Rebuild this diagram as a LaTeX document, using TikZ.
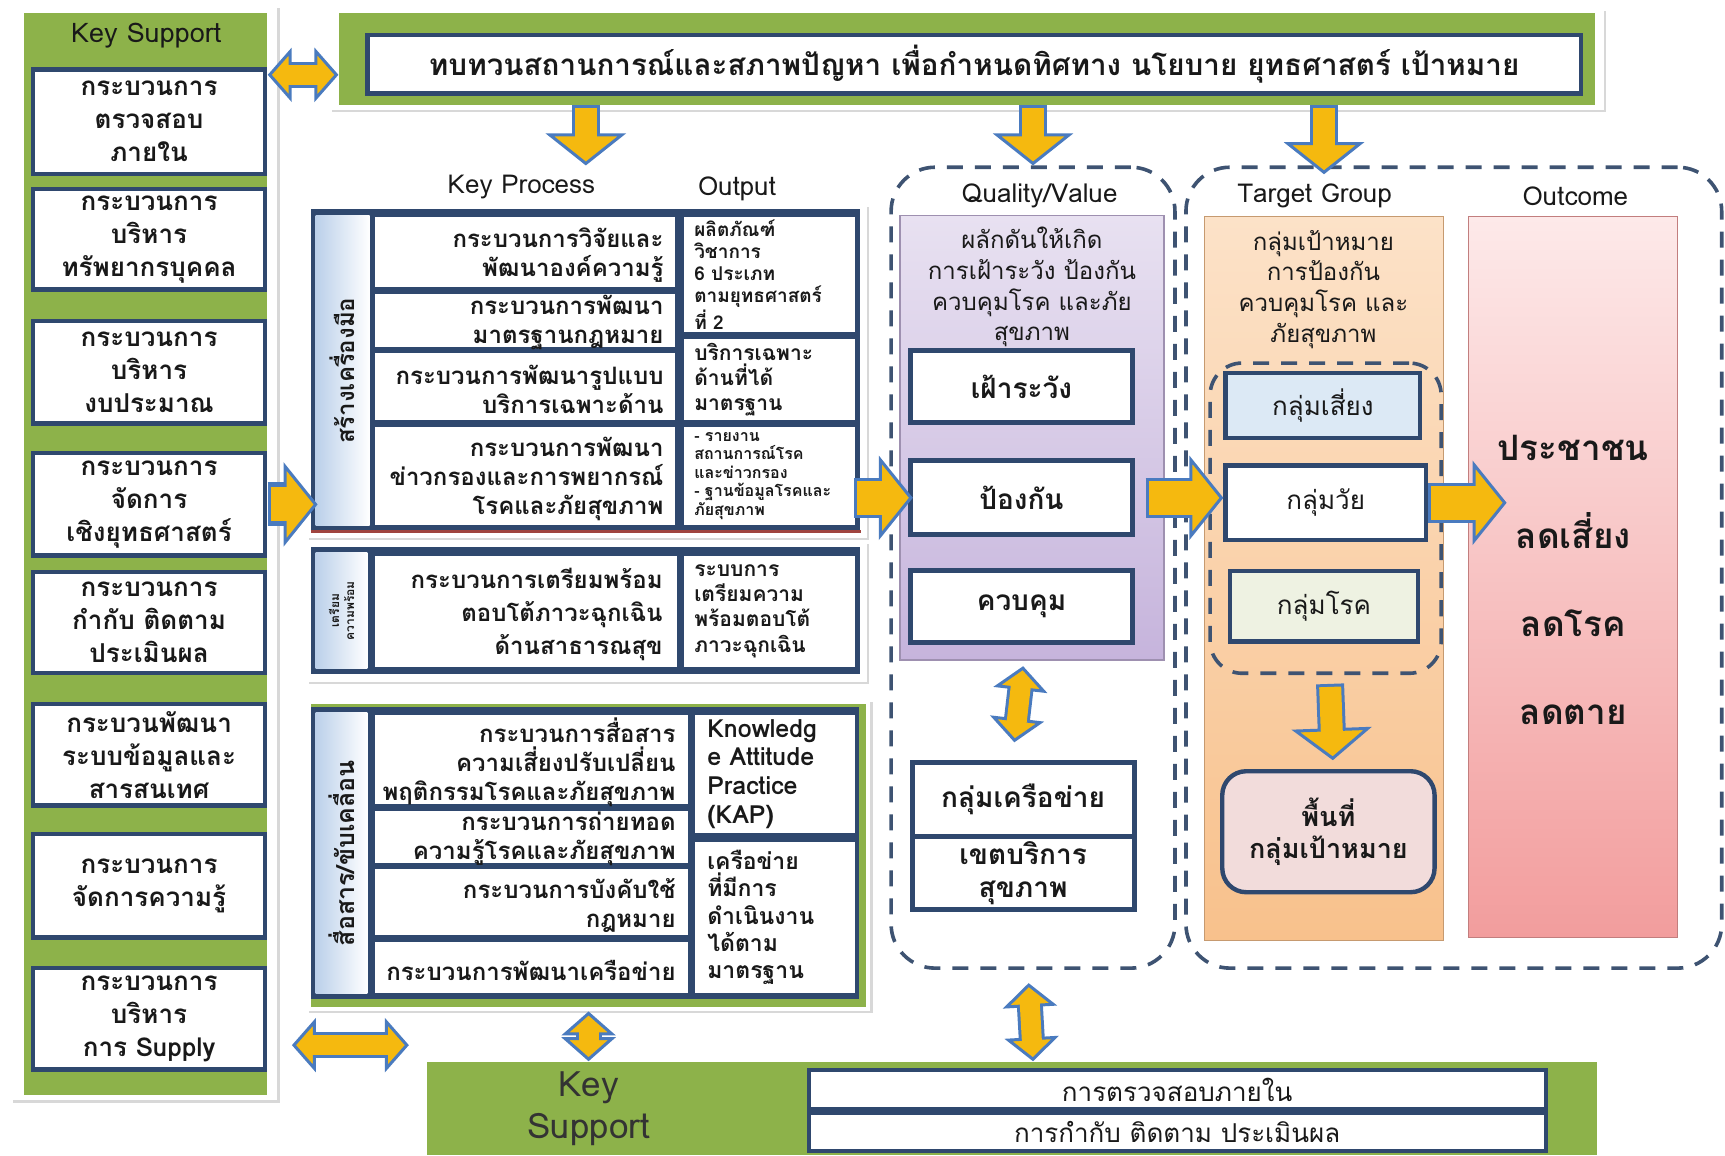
\documentclass[tikz,border=0pt]{standalone}
\usepackage{fontspec}
\setmainfont{Loma}[Script=Thai]
\usetikzlibrary{fit,calc,arrows.meta,shadows}

\definecolor{ksgreen}{HTML}{8DB24A}
\definecolor{navy}{HTML}{2F486E}
\definecolor{gold}{HTML}{F5B90F}
\definecolor{arrowblue}{HTML}{4A7BBF}
\definecolor{sideblue}{HTML}{BBD0EA}
\definecolor{brick}{HTML}{A0443F}
\definecolor{qvtop}{HTML}{E8E1F1}
\definecolor{qvbot}{HTML}{C6B4DC}
\definecolor{tgtop}{HTML}{FCE2C8}
\definecolor{tgbot}{HTML}{F8C18C}
\definecolor{octop}{HTML}{FDE9E9}
\definecolor{ocbot}{HTML}{F29D9D}
\definecolor{riskblue}{HTML}{DCE9F5}
\definecolor{dispale}{HTML}{EEF2E2}
\definecolor{areapink}{HTML}{F2DCDB}
\definecolor{dashgray}{HTML}{3E5372}

\tikzset{
  every node/.style={inner sep=0pt, align=center, text=black!90},
  greenbar/.style={fill=ksgreen},
  panel/.style={fill=white, drop shadow={opacity=0.3, shadow xshift=1.2pt, shadow yshift=-1.2pt}},
  kbox/.style={draw=navy, line width=2.2pt, fill=white},
  kfont/.style={font=\bfseries\fontsize{13}{16.5}\selectfont},
  hdr/.style={font=\fontsize{13}{14}\selectfont},
  cell/.style={fill=white},
  side/.style={left color=sideblue, right color=white},
  sidetext/.style={rotate=90, font=\bfseries\fontsize{12}{14}\selectfont},
  ptext/.style={font=\bfseries\fontsize{12}{14.5}\selectfont, align=right},
  otext/.style={font=\bfseries\fontsize{9.5}{11}\selectfont, align=left},
  dashbox/.style={draw=dashgray, line width=1.8pt, dash pattern=on 8pt off 6pt, rounded corners=22pt},
  qtext/.style={font=\fontsize{12}{15.4}\selectfont},
  qbox/.style={draw=navy, line width=2.5pt, fill=white},
  qfont/.style={font=\bfseries\fontsize{14}{16.5}\selectfont},
  tbox/.style={draw=navy, line width=2.2pt, fill=white},
  tfont/.style={font=\fontsize{13}{15}\selectfont},
  botbox/.style={draw=navy, line width=2pt, fill=white},
  bfont/.style={font=\fontsize{13}{14}\selectfont},
  flow/.style={draw=arrowblue, line width=20pt,
    -{Triangle[fill=gold, line width=1.5pt, length=17pt, width=42pt]},
    postaction={draw=gold, line width=17pt, -, shorten >=15pt, shorten <=1.5pt}},
  down/.style={draw=arrowblue, line width=14pt,
    -{Triangle[fill=gold, line width=1.5pt, length=16pt, width=40pt]},
    postaction={draw=gold, line width=11pt, -, shorten >=14pt, shorten <=1.5pt}},
  duo/.style={draw=arrowblue, line width=13pt,
    {Triangle[fill=gold, line width=1.5pt, length=12pt, width=27pt]}-{Triangle[fill=gold, line width=1.5pt, length=12pt, width=27pt]},
    postaction={draw=gold, line width=10pt, -, shorten >=10pt, shorten <=10pt}}
}

\begin{document}
\begin{tikzpicture}[x=0.55pt,y=-0.55pt]
\useasboundingbox[fill=white] (0,0) rectangle (1568,1050);

% key support column
\node[panel, fit={(10,5)(252,1000)}] (kspanel) {};
\node[greenbar, fit={(22,12)(243,995)}] (kscol) {};
\node[hdr, font=\fontsize{13.5}{15}\selectfont] (kstitle) at (133,32) {Key Support};
\foreach \n/\ya/\yb/\txt in {
  1/63/158/{กระบวนการ\\ตรวจสอบ\\ภายใน},
  2/172/263/{กระบวนการ\\บริหาร\\ทรัพยากรบุคคล},
  3/292/385/{กระบวนการ\\บริหาร\\งบประมาณ},
  4/412/505/{กระบวนการ\\จัดการ\\เชิงยุทธศาสตร์},
  5/520/612/{กระบวนการ\\กำกับ ติดตาม\\ประเมินผล},
  6/640/732/{กระบวนพัฒนา\\ระบบข้อมูลและ\\สารสนเทศ},
  7/758/852/{กระบวนการ\\จัดการความรู้},
  8/880/972/{กระบวนการ\\บริหาร\\การ Supply}}
  {\node[kbox, fit={(30,\ya)(241,\yb)}] (k\n) {};
   \node[kfont] (k\n t) at (k\n) {\txt};}

% top banner
\node[panel, fit={(300,8)(1458,100)}] (bannerpanel) {};
\node[greenbar, fit={(308,12)(1450,95)}] (bannerbar) {};
\node[kbox, fit={(334,32)(1437,85)}] (banner) {};
\node[font=\bfseries\fontsize{14.8}{16}\selectfont] (bannert) at (banner)
  {ทบทวนสถานการณ์และสภาพปัญหา เพื่อกำหนดทิศทาง นโยบาย ยุทธศาสตร์ เป้าหมาย};

\node[hdr] (hkp) at (474,170) {Key Process};
\node[hdr] (hout) at (670,172) {Output};

% block 1
\node[panel, fit={(279,186)(788,489)}] (blk1panel) {};
\node[fill=navy, fit={(283,190)(782,483)}] (blk1) {};
\draw[brick, line width=1.5pt] (blk1.south west) -- (blk1.south east);
\node[side, fit={(287,196)(336,478)}] (s1) {};
\node[sidetext] (s1t) at (s1) {สร้างเครื่องมือ};
\node[cell, fit={(341,197)(614,261)}] (p1) {};
\node[cell, fit={(341,267)(614,315)}] (p2) {};
\node[cell, fit={(341,321)(614,382)}] (p3) {};
\node[cell, fit={(341,388)(614,477)}] (p4) {};
\node[ptext, anchor=east] (p1t) at ([xshift=-6pt,yshift=-1.5pt]p1.east) {กระบวนการวิจัยและ\\พัฒนาองค์ความรู้};
\node[ptext, anchor=east] (p2t) at ([xshift=-6pt,yshift=-1pt]p2.east) {กระบวนการพัฒนา\\มาตรฐานกฎหมาย};
\node[ptext, anchor=east] (p3t) at ([xshift=-6pt,yshift=-1.5pt]p3.east) {กระบวนการพัฒนารูปแบบ\\บริการเฉพาะด้าน};
\node[ptext, anchor=east] (p4t) at ([xshift=-6pt,yshift=-1.5pt]p4.east) {กระบวนการพัฒนา\\ข่าวกรองและการพยากรณ์\\โรคและภัยสุขภาพ};
\node[cell, fit={(622,197)(777,302)}] (o1) {};
\node[cell, fit={(622,308)(777,382)}] (o2) {};
\node[cell, fit={(622,388)(777,477)}] (o3) {};
\node[otext, anchor=west] (o1t) at ([xshift=5pt]o1.west) {ผลิตภัณฑ์\\วิชาการ\\6 ประเภท\\ตามยุทธศาสตร์\\ที่ 2};
\node[otext, font=\bfseries\fontsize{10.5}{12.6}\selectfont, anchor=west] (o2t) at ([xshift=5pt]o2.west) {บริการเฉพาะ\\ด้านที่ได้\\มาตรฐาน};
\node[otext, font=\bfseries\fontsize{8}{9.3}\selectfont, anchor=west] (o3t) at ([xshift=5pt]o3.west) {- รายงาน\\สถานการณ์โรค\\และข่าวกรอง\\- ฐานข้อมูลโรคและ\\ภัยสุขภาพ};

% block 2
\node[panel, fit={(279,492)(788,620)}] (blk2panel) {};
\node[fill=navy, fit={(283,497)(782,613)}] (blk2) {};
\node[side, fit={(287,502)(334,608)}] (s2) {};
\node[sidetext, font=\bfseries\fontsize{6}{7.5}\selectfont] (s2t) at (s2) {เตรียม\\ความพร้อม};
\node[cell, fit={(341,505)(615,606)}] (p5) {};
\node[ptext, font=\bfseries\fontsize{12}{16.5}\selectfont, anchor=east] (p5t) at ([xshift=-7pt,yshift=-1.5pt]p5.east) {กระบวนการเตรียมพร้อม\\ตอบโต้ภาวะฉุกเฉิน\\ด้านสาธารณสุข};
\node[cell, fit={(622,505)(777,606)}] (o4) {};
\node[otext, font=\bfseries\fontsize{10.5}{12.6}\selectfont, anchor=west] (o4t) at ([xshift=5pt]o4.west) {ระบบการ\\เตรียมความ\\พร้อมตอบโต้\\ภาวะฉุกเฉิน};

% block 3
\node[panel, fit={(279,636)(791,919)}] (blk3panel) {};
\node[greenbar, fit={(283,640)(787,915)}] (blk3green) {};
\node[fill=navy, fit={(283,643)(781,908)}] (blk3) {};
\node[side, fit={(287,648)(334,903)}] (s3) {};
\node[sidetext, font=\bfseries\fontsize{12.5}{14}\selectfont] (s3t) at (s3) {สื่อสาร/ขับเคลื่อน};
\node[cell, fit={(341,650)(625,731)}] (p6) {};
\node[cell, fit={(341,737)(625,784)}] (p7) {};
\node[cell, fit={(341,790)(625,850)}] (p8) {};
\node[cell, fit={(341,856)(625,903)}] (p9) {};
\node[ptext, anchor=east] (p6t) at ([xshift=-6pt,yshift=-1.5pt]p6.east) {กระบวนการสื่อสาร\\ความเสี่ยงปรับเปลี่ยน\\พฤติกรรมโรคและภัยสุขภาพ};
\node[ptext, anchor=east] (p7t) at ([xshift=-6pt,yshift=-1pt]p7.east) {กระบวนการถ่ายทอด\\ความรู้โรคและภัยสุขภาพ};
\node[ptext, anchor=east] (p8t) at ([xshift=-6pt,yshift=-1.5pt]p8.east) {กระบวนการบังคับใช้\\กฎหมาย};
\node[ptext, anchor=east] (p9t) at ([xshift=-6pt,yshift=-1.5pt]p9.east) {กระบวนการพัฒนาเครือข่าย};
\node[cell, fit={(632,650)(777,757)}] (o5) {};
\node[cell, fit={(632,765)(777,903)}] (o6) {};
\node[otext, font=\bfseries\fontsize{12.5}{14.3}\selectfont, anchor=west] (o5t) at ([xshift=6pt]o5.west) {Knowledg\\e Attitude\\Practice\\(KAP)};
\node[otext, font=\bfseries\fontsize{11.5}{13.7}\selectfont, anchor=west] (o6t) at ([xshift=6pt]o6.west) {เครือข่าย\\ที่มีการ\\ดำเนินงาน\\ได้ตาม\\มาตรฐาน};

% quality / value
\node[dashbox, fit={(810,152)(1068,880)}] (qv) {};
\node[hdr] (hqv) at (945,178) {Quality/Value};
\node[draw=qvbot!80!black, line width=0.6pt, top color=qvtop, bottom color=qvbot, fit={(818,196)(1058,600)}] (qvbox) {};
\node[qtext] (qvt) at (938,261) {ผลักดันให้เกิด\\การเฝ้าระวัง ป้องกัน\\ควบคุมโรค และภัย\\สุขภาพ};
\node[qbox, fit={(828,319)(1029,384)}] (q1) {};
\node[qbox, fit={(828,419)(1029,486)}] (q2) {};
\node[qbox, fit={(828,519)(1029,584)}] (q3) {};
\node[qbox, fit={(829,693)(1031,760)}] (n1) {};
\node[qbox, fit={(829,760)(1031,827)}] (n2) {};
\node[qfont] (q1t) at (q1) {เฝ้าระวัง};
\node[qfont] (q2t) at (q2) {ป้องกัน};
\node[qfont] (q3t) at (q3) {ควบคุม};
\node[qfont] (n1t) at (n1) {กลุ่มเครือข่าย};
\node[qfont] (n2t) at (n2) {เขตบริการ\\สุขภาพ};

% target group and outcome
\node[dashbox, fit={(1078,152)(1565,880)}] (tg) {};
\node[hdr] (htg) at (1195,178) {Target Group};
\node[hdr] (hoc) at (1432,178) {Outcome};
\node[draw=tgbot!80!black, line width=0.6pt, top color=tgtop, bottom color=tgbot, fit={(1095,197)(1312,855)}] (tgbox) {};
\node[qtext] (tgt) at (1203,263) {กลุ่มเป้าหมาย\\การป้องกัน\\ควบคุมโรค และ\\ภัยสุขภาพ};
\node[dashbox, rounded corners=16pt, fit={(1100,330)(1310,612)}] (tgin) {};
\node[tbox, fill=riskblue, fit={(1114,339)(1291,398)}] (t1) {};
\node[tbox, fit={(1114,423)(1296,491)}] (t2) {};
\node[tbox, fill=dispale, fit={(1118,519)(1289,583)}] (t3) {};
\node[tbox, fill=areapink, rounded corners=12pt, fit={(1111,701)(1304,811)}] (area) {};
\node[tfont] (t1t) at (t1) {กลุ่มเสี่ยง};
\node[tfont] (t2t) at (t2) {กลุ่มวัย};
\node[tfont] (t3t) at (t3) {กลุ่มโรค};
\node[font=\bfseries\fontsize{13.5}{16}\selectfont] (areat) at (area) {พื้นที่\\กลุ่มเป้าหมาย};
\node[draw=ocbot!80!black, line width=0.6pt, top color=octop, bottom color=ocbot, fit={(1335,197)(1525,852)}] (oc) {};
\node[font=\bfseries\fontsize{17.5}{44}\selectfont] (oct) at (1430,527) {ประชาชน\\ลดเสี่ยง\\ลดโรค\\ลดตาย};

% bottom key support
\node[greenbar, fit={(388,965)(1452,1050)}] (botbar) {};
\node[font=\fontsize{17.5}{21}\selectfont, text=black!80] (botkey) at (535,1008) {Key\\Support};
\node[botbox, fit={(735,973)(1405,1008)}] (b1) {};
\node[botbox, fit={(735,1012)(1405,1046)}] (b2) {};
\node[bfont] (b1t) at (b1) {การตรวจสอบภายใน};
\node[bfont] (b2t) at (b2) {การกำกับ ติดตาม ประเมินผล};

% arrows
\draw[duo] ($(kscol.east |- k1.north)+(0,7)$) -- ($(bannerbar.west |- k1.north)+(0,7)$);
\draw[down] (bannerbar.south -| blk1.north) -- (qv.north -| blk1.north);
\draw[down] (bannerbar.south -| qv.north) -- (qv.north);
\draw[down] (bannerbar.south -| tgbox.north) -- ($(tg.north -| tgbox.north)+(0,8)$);
\draw[flow, line width=22pt] (kscol.east |- k4) -- ($(blk1.west |- k4)+(6,0)$);
\draw[flow] ($(blk1.east |- q2)+(-6,0)$) -- ($(q2.west)+(4,0)$);
\draw[flow] ($(q2.east)+(10,0)$) -- (q2.east -| t2.west);
\draw[flow] (t2.east) -- ($(t2.east -| oc.west)+(35,0)$);
\draw[duo] ($(qvbox.south)+(-8,5)$) -- ($(n1.north)+(-8,-16)$);
\draw[down] ($(tgin.south)+(4,8)$) -- ($(area.north)+(4,-8)$);
\draw[duo] (blk3panel.south -| botkey.north) -- (botbar.north -| botkey.north);
\draw[duo] ($(qv.south)+(-4,12)$) -- (botbar.north -| qv.south);
\draw[duo] ($(k8.south -| kscol.east)+(22,-24)$) -- ($(k8.south -| botbar.west)+(-16,-24)$);
\end{tikzpicture}
\end{document}
